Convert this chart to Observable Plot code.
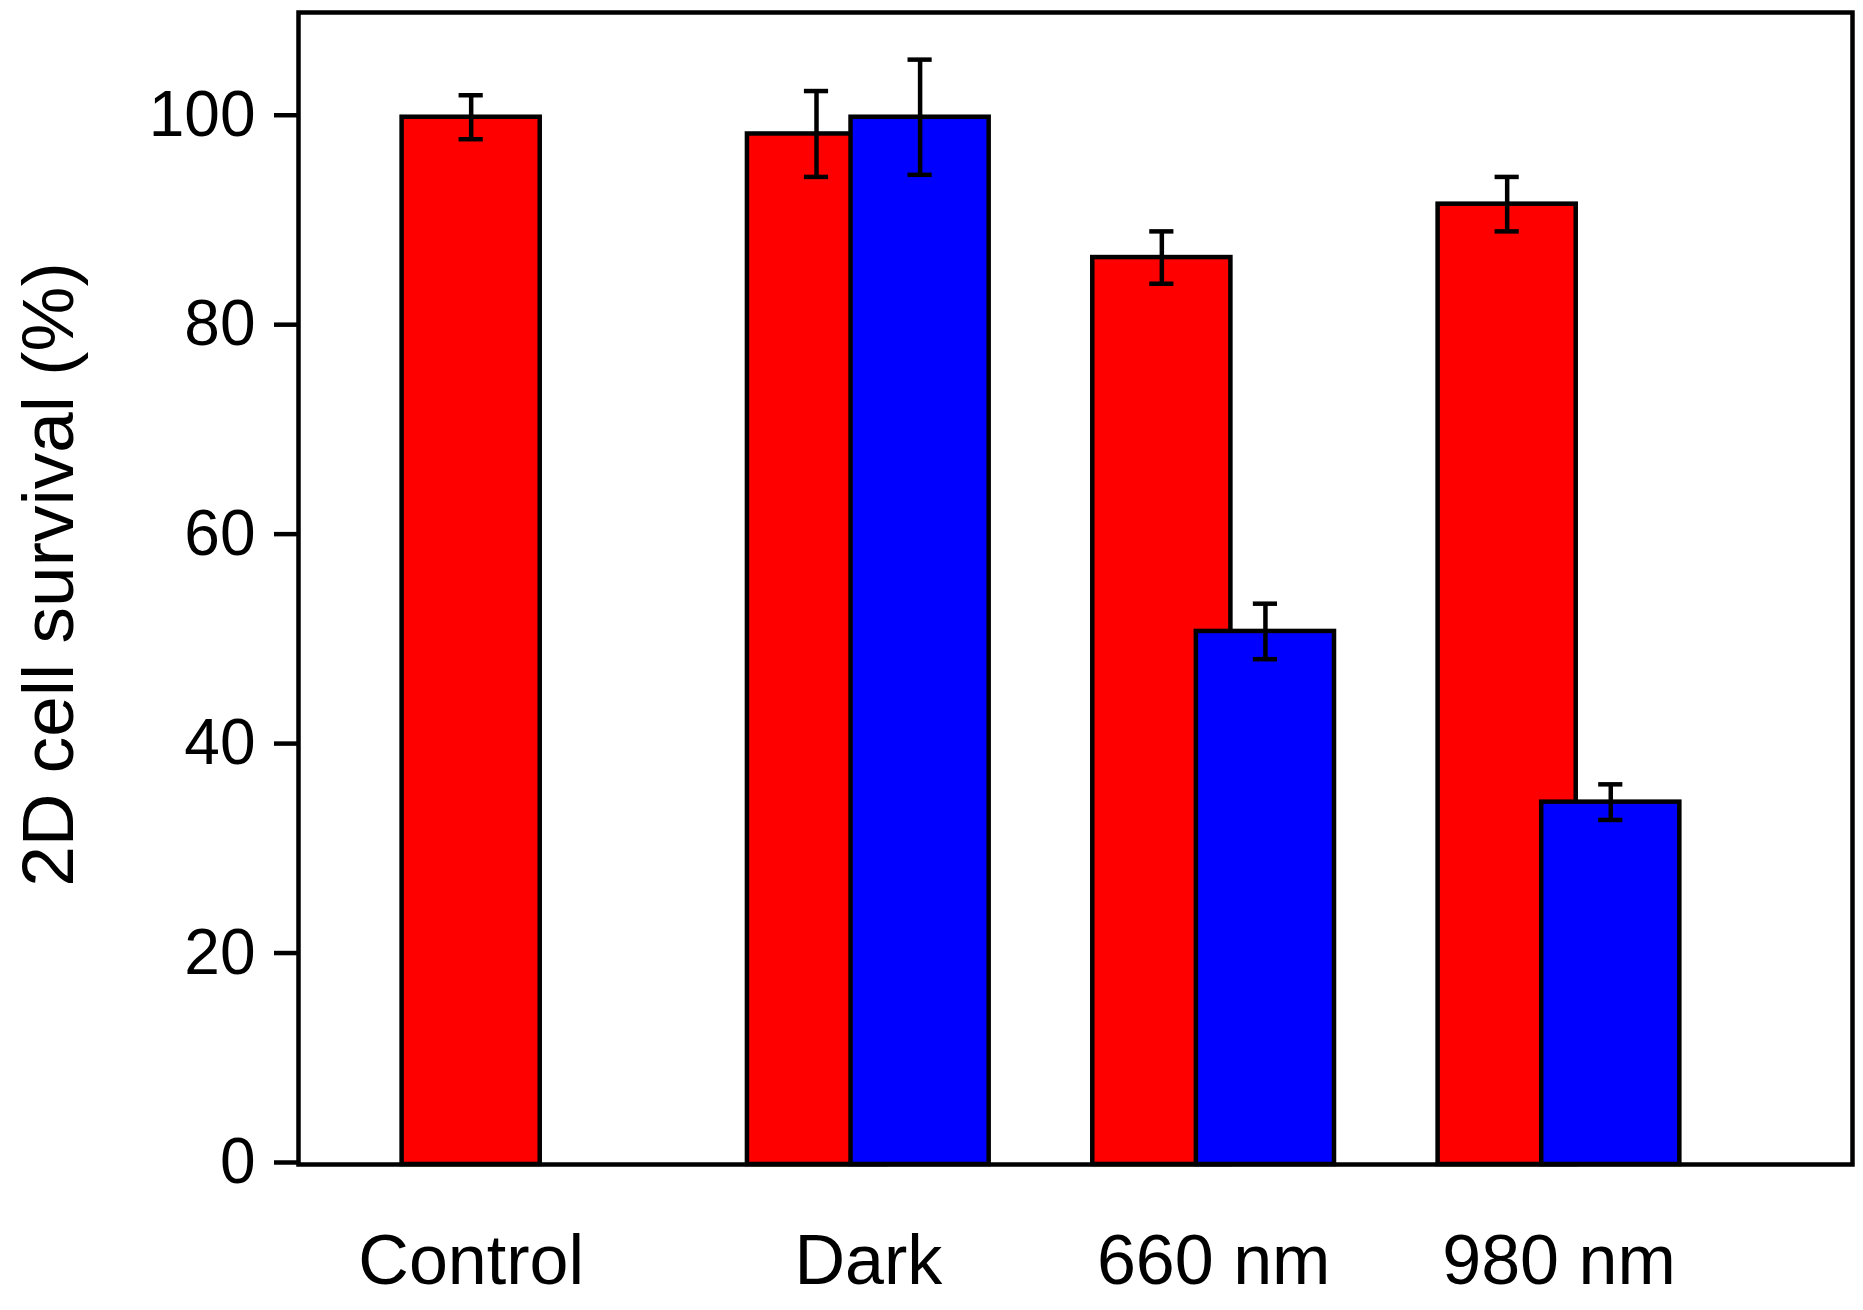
<!DOCTYPE html>
<html>
<head>
<meta charset="utf-8">
<script src="https://cdn.jsdelivr.net/npm/d3@7"></script>
<script src="https://cdn.jsdelivr.net/npm/@observablehq/plot@0.6"></script>
<style>
  html, body { margin: 0; padding: 0; background: #fff; }
  #chart svg { display: block; }
</style>
</head>
<body>
<div id="chart"></div>
<script>
// ---- data ----
const categories = ["Control", "Dark", "660 nm", "980 nm"];
const redMean  = [100, 98.4, 86.6, 91.7];
const redErr   = [2.1, 4.1, 2.5, 2.6];
const blueMean = [null, 100, 50.9, 34.6];
const blueErr  = [null, 5.5, 2.65, 1.7];
const yTicks   = [0, 20, 40, 60, 80, 100];
const yLabel   = "2D cell survival (%)";

// ---- layout (group index based positions on a linear x scale) ----
const barHalf = 0.2;      // half bar width in group units
const blueShift = 0.3;    // blue bar offset from red bar centre
const capHalf = 0.035;    // half width of error-bar caps

const red = categories.map((c, i) => ({cat: c, pos: i, mean: redMean[i], err: redErr[i]}));
const blue = categories.map((c, i) => ({cat: c, pos: i + blueShift, mean: blueMean[i], err: blueErr[i]}))
  .filter(d => d.mean != null);
const labelPos = categories.map((c, i) => blueMean[i] == null ? i : i + blueShift / 2);
const errs = red.concat(blue);

const stroke = 4.5;

const chart = Plot.plot({
  width: 1863,
  height: 1310,
  marginLeft: 298,
  marginRight: 11,
  marginTop: 12,
  marginBottom: 146,
  style: {fontFamily: "'Liberation Sans', Arial, sans-serif", color: "black", background: "white"},
  x: {domain: [-0.5, 4]},
  y: {domain: [0, 110]},
  marks: [
    Plot.rect(red, {x1: d => d.pos - barHalf, x2: d => d.pos + barHalf, y1: () => 0, y2: "mean",
      fill: "#ff0000", stroke: "black", strokeWidth: stroke}),
    Plot.rect(blue, {x1: d => d.pos - barHalf, x2: d => d.pos + barHalf, y1: () => 0, y2: "mean",
      fill: "#0000ff", stroke: "black", strokeWidth: stroke}),
    Plot.ruleX(errs, {x: "pos", y1: d => d.mean - d.err, y2: d => d.mean + d.err, stroke: "black", strokeWidth: stroke}),
    Plot.ruleY(errs, {y: d => d.mean + d.err, x1: d => d.pos - capHalf, x2: d => d.pos + capHalf, stroke: "black", strokeWidth: stroke}),
    Plot.ruleY(errs, {y: d => d.mean - d.err, x1: d => d.pos - capHalf, x2: d => d.pos + capHalf, stroke: "black", strokeWidth: stroke}),
    Plot.frame({stroke: "black", strokeWidth: stroke}),
    Plot.axisY({ticks: yTicks, tickSize: 24, tickPadding: 19, fontSize: 64, strokeWidth: stroke,
      label: null, dy: -2, tickFormat: d => String(d)}),
    Plot.axisX({ticks: labelPos, tickSize: 0, tickPadding: 70, fontSize: 70, label: null,
      tickFormat: d => categories[labelPos.indexOf(d)]}),
    Plot.text([yLabel], {text: d => d, frameAnchor: "left", rotate: -90, textAnchor: "middle",
      lineAnchor: "middle", fontSize: 73, dx: -249, dy: -14, fill: "black"})
  ]
});
document.getElementById("chart").appendChild(chart);
</script>
</body>
</html>
